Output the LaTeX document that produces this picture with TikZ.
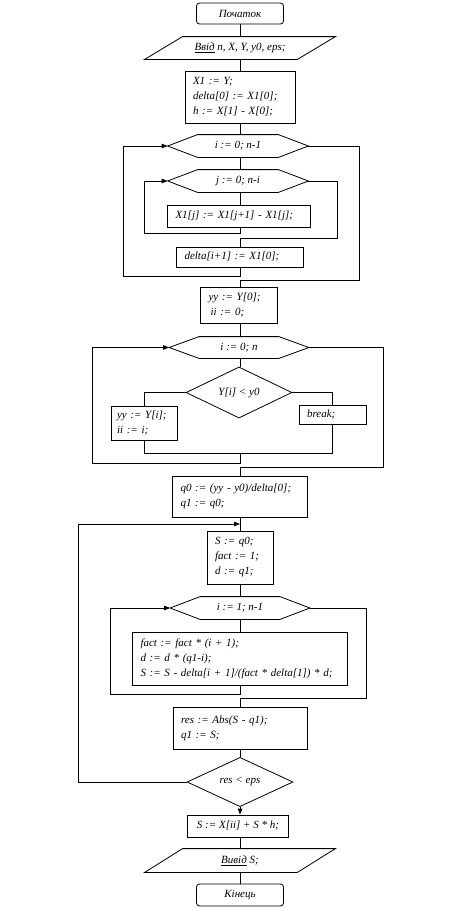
\documentclass[tikz,border=0pt]{standalone}
\usepackage{fontspec}
\setmainfont{Liberation Serif}
\usepackage{tikz}
\usetikzlibrary{calc}
\usetikzlibrary{arrows.meta}
\usetikzlibrary{shapes.geometric}

\tikzset{
  every node/.style={font=\itshape\fontsize{11}{15}\selectfont},
  term/.style={draw, rectangle, rounded corners=3pt, minimum width=87pt, minimum height=21pt, inner sep=0pt},
  io/.style={rectangle, minimum width=190pt, minimum height=22pt, inner sep=0pt},
  proc/.style={draw, rectangle, align=left, inner xsep=8pt, inner ysep=2pt},
  loophex/.style={rectangle, minimum width=140pt, minimum height=22pt, inner sep=0pt},
  cond/.style={draw, diamond, minimum width=106pt, minimum height=41pt, inner sep=0pt},
  tip/.style={-{Triangle[length=6pt,width=4.5pt]}}
}

\begin{document}
\begin{tikzpicture}[x=1pt,y=-1pt,line width=0.8pt]
\useasboundingbox (0,0) rectangle (470,911);

\node[term] (start) at (240,13.5) {Початок};
\node[io] (inp) at (240,48) {\underline{Ввід} n, X, Y, y0, eps;};
\node[proc, text width=94pt, minimum height=52pt] (init) at (240,97)
  {X1 := Y;\\ delta[0] := X1[0];\\ h := X[1] - X[0];};

% differences table
\node[loophex] (h1) at (238,146) {i := 0; n-1};
\node[loophex] (h2) at (238,181) {j := 0; n-i};
\node[proc, text width=127pt, minimum height=22pt] (dif) at (239,216) {X1[j] := X1[j+1] - X1[j];};
\node[proc, text width=111pt, minimum height=20pt] (dl) at (240,257) {delta[i+1] := X1[0];};

% search of ii
\node[proc, text width=61pt, minimum height=36pt] (yy) at (239,305) {yy := Y[0];\\ \hspace{2pt}ii := 0;};
\node[loophex, minimum width=139pt, minimum height=21pt] (h3) at (239,347.5) {i := 0; n};
\node[cond] (c1) at (239,392.5) {Y[i] < y0};
\node[proc, inner xsep=6pt, text width=54pt, minimum height=34pt] (yyi) at (144,423) {yy := Y[i];\\ ii := i;};
\node[proc, text width=51pt, minimum height=19pt] (brk) at (332.5,414.5) {break;};

% iterations
\node[proc, text width=119pt, minimum height=41pt] (q0) at (240,496.5) {q0 := (yy - y0)/delta[0];\\ q1 := q0;};
\node[proc, text width=50pt, minimum height=53pt] (s) at (240,557.5) {S := q0;\\ fact := 1;\\ d := q1;};
\node[loophex, minimum width=139pt] (h4) at (240,608) {i := 1; n-1};
\node[proc, text width=199pt, minimum height=53pt] (fact) at (240,658.5)
  {fact := fact * (i + 1);\\ d := d * (q1-i);\\ S := S - delta[i + 1]/(fact * delta[1]) * d;};
\node[proc, text width=118pt, minimum height=42pt] (res) at (240,728) {res := Abs(S - q1);\\ q1 := S;};
\node[cond, minimum height=40pt] (c2) at (240,782) {res < eps};
\node[proc, align=center, minimum width=101pt, minimum height=22pt] (fin) at (238,826) {S := X[ii] + S * h;};
\node[io, minimum height=23pt] (out) at (240,860.5) {\underline{Вивід} S;};
\node[term, minimum height=22pt] (stop) at (240,895) {Кінець};

% shapes drawn by hand
\foreach \p in {inp,out}
  \draw ([xshift=38pt]\p.north west) -- (\p.north east) -- ([xshift=-38pt]\p.south east) -- (\p.south west) -- cycle;
\foreach \h in {h1,h2,h3,h4}
  \draw (\h.west) -- ([xshift=30pt]\h.north west) -- ([xshift=-30pt]\h.north east) -- (\h.east)
        -- ([xshift=-30pt]\h.south east) -- ([xshift=30pt]\h.south west) -- cycle;

% main line
\draw (start) -- (inp);
\draw (inp) -- (init);
\draw (init.south) -- (init.south |- h1.north);
\draw (h1.south -| 240,0) -- (h2.north -| 240,0);
\draw (h2.south -| 240,0) -- (dif.north -| 240,0);
%\draw (dif) -- (dl);

% loops of the table
\draw[tip] (dif.south -| 240,0) |- (144,233) |- (h2.west);
\draw (h2.east) -| (337,238) -| (dl.north);
\draw[tip] (dl.south) |- (123,276) |- (h1.west);
\draw (h1.east) -| (359,280) -| (yy.north -| 240,0);

% search
\draw (yy.south -| 240,0) -- (h3.north -| 240,0);
\draw (h3.south -| 240,0) -- (c1.north -| 240,0);
\draw (c1.west) -| (yyi.north);
\draw (c1.east) -| (brk.north);
\draw (yyi.south) |- (240,453);
\draw (brk.south) |- (240,453);
\draw[tip] (240,453) |- (92,463) |- (h3.west);
\draw (h3.east) -| (383,467) -| (q0.north);

% iterations
\draw (q0) -- (s);
\draw (s) -- (h4);
\draw (h4) -- (fact);
\draw[tip] (fact.south) |- (110,694) |- (h4.west);
\draw (h4.east) -| (366,698) -| (res.north);
\draw (res) -- (c2);
\draw[tip] (c2.west) -| (78,524) -- (240,524);
\draw[tip] (c2.south) -- (c2.south |- fin.north);
\draw (fin.south -| 240,0) -- (out.north);
\draw (out) -- (stop);
\end{tikzpicture}
\end{document}
